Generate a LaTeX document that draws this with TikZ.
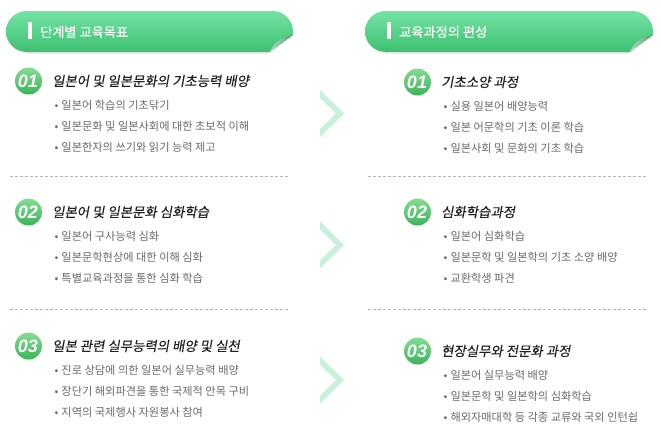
\documentclass[tikz,border=0pt]{standalone}
\usepackage{fontspec}
\setmainfont{Noto Sans CJK KR}
\newfontfamily\krtitle[FakeSlant=0.18,FakeBold=0.3]{Noto Sans CJK KR}
\newfontfamily\krhead[FakeBold=0.5]{Noto Sans CJK KR}
\newfontfamily\numfont{Liberation Sans}
\definecolor{bantop}{HTML}{74E3A6}
\definecolor{banbot}{HTML}{3DC06F}
\definecolor{badgetop}{HTML}{86DC93}
\definecolor{badgebot}{HTML}{3AB459}
\definecolor{titlecol}{HTML}{222222}
\definecolor{bulletcol}{HTML}{6A6A6A}
\definecolor{dashcol}{HTML}{B4B4B4}
\definecolor{chevcol}{HTML}{C8F0DA}
\definecolor{flapdark}{HTML}{4E9C70}
\definecolor{flaplight}{HTML}{B8DCC6}
\tikzset{
  badge/.style={circle, minimum size=27pt, inner sep=0pt, top color=badgetop, bottom color=badgebot},
  badgenum/.style={text=white, font=\numfont\fontsize{18}{18}\selectfont\bfseries\itshape, inner sep=0pt},
  sectitle/.style={anchor=west, inner sep=0pt, text=titlecol, font=\krtitle\fontsize{13.4}{15}\selectfont},
  bulletline/.style={anchor=west, inner sep=0pt, text=bulletcol, font=\fontsize{11.2}{13}\selectfont},
  headtext/.style={anchor=west, inner sep=0pt, text=white, font=\krhead\fontsize{13.2}{15}\selectfont},
  sepline/.style={draw=dashcol, line width=0.8pt, dash pattern=on 3pt off 2pt},
  chevron/.style={fill=chevcol, draw=none},
}
% #1 name, #2 badge x, #3 badge y, #4 number, #5 title, #6 #7 #8 bullets
\newcommand\kosection[8]{%
  \node[badge] (#1b) at (#2,#3) {};
  \node[badgenum] (#1n) at (#2-0.5,#3) {#4};
  \node[sectitle] (#1t) at (#2+23.5,#3) {#5};
  \node[bulletline] (#1i) at (#2+26,#3+24) {•\hspace{3pt}#6};
  \node[bulletline] (#1j) at (#2+26,#3+45) {•\hspace{3pt}#7};
  \node[bulletline] (#1k) at (#2+26,#3+66) {•\hspace{3pt}#8};
}
% #1 name, #2 left x, #3 right x, #4 top y, #5 bottom y, #6 text
\newcommand\kobanner[6]{%
  \fill[black!8] (#2+20,#5+1.5) -- (#3-24,#5+1.5) -- (#3-24,#5) -- (#2+20,#5) -- cycle;
  \path[top color=bantop, bottom color=banbot]
    (#2+20.5,#4) -- (#3-20.5,#4) arc[start angle=-90, end angle=0, radius=20.5]
    -- (#3,#5-17) -- (#3-23,#5) -- (#2+20.5,#5)
    arc[start angle=90, end angle=270, radius=20.5] -- cycle;
  \path[left color=flaplight, right color=flapdark]
    (#3,#5-17) .. controls (#3-10,#5-16) and (#3-19,#5-10) .. (#3-23,#5) -- cycle;
  \fill[white] (#2+22,#4+11) rectangle (#2+25.5,#4+28);
  \node[headtext] (#1) at (#2+34,#4+21) {#6};
}
\begin{document}
\begin{tikzpicture}[x=1pt,y=-1pt]
\useasboundingbox (0,0) rectangle (661,439);
\fill[white] (0,0) rectangle (661,439);

\kobanner{hl}{6}{293}{11}{52}{단계별 교육목표}
\kobanner{hr}{365}{653}{11}{52}{교육과정의 편성}

\kosection{a}{28.5}{81}{01}{일본어 및 일본문화의 기초능력 배양}{일본어 학습의 기초닦기}{일본문화 및 일본사회에 대한 초보적 이해}{일본한자의 쓰기와 읽기 능력 제고}
\kosection{b}{28.5}{212}{02}{일본어 및 일본문화 심화학습}{일본어 구사능력 심화}{일본문학현상에 대한 이해 심화}{특별교육과정을 통한 심화 학습}
\kosection{c}{28.5}{346}{03}{일본 관련 실무능력의 배양 및 실천}{진로 상담에 의한 일본어 실무능력 배양}{장단기 해외파견을 통한 국제적 안목 구비}{지역의 국제행사 자원봉사 참여}

\kosection{d}{417.5}{82}{01}{기초소양 과정}{실용 일본어 배양능력}{일본 어문학의 기초 이론 학습}{일본사회 및 문화의 기초 학습}
\kosection{e}{417.5}{212}{02}{심화학습과정}{일본어 심화학습}{일본문학 및 일본학의 기초 소양 배양}{교환학생 파견}
\kosection{f}{417.5}{351}{03}{현장실무와 전문화 과정}{일본어 실무능력 배양}{일본문학 및 일본학의 심화학습}{해외자매대학 등 각종 교류와 국외 인턴쉽}

\coordinate (s1a) at (10,176); \coordinate (s1b) at (288,176);
\coordinate (s2a) at (10,309); \coordinate (s2b) at (288,309);
\coordinate (s3a) at (368,176); \coordinate (s3b) at (646,176);
\coordinate (s4a) at (368,309); \coordinate (s4b) at (646,309);
\draw[sepline] (s1a) -- (s1b);
\draw[sepline] (s2a) -- (s2b);
\draw[sepline] (s3a) -- (s3b);
\draw[sepline] (s4a) -- (s4b);

\foreach \cy in {113.5, 245, 380} {
  \fill[chevron] (320,\cy-23.5) -- (344,\cy) -- (320,\cy+23.5) -- (320,\cy+15.5) -- (336,\cy) -- (320,\cy-15.5) -- cycle;
}
\end{tikzpicture}
\end{document}
